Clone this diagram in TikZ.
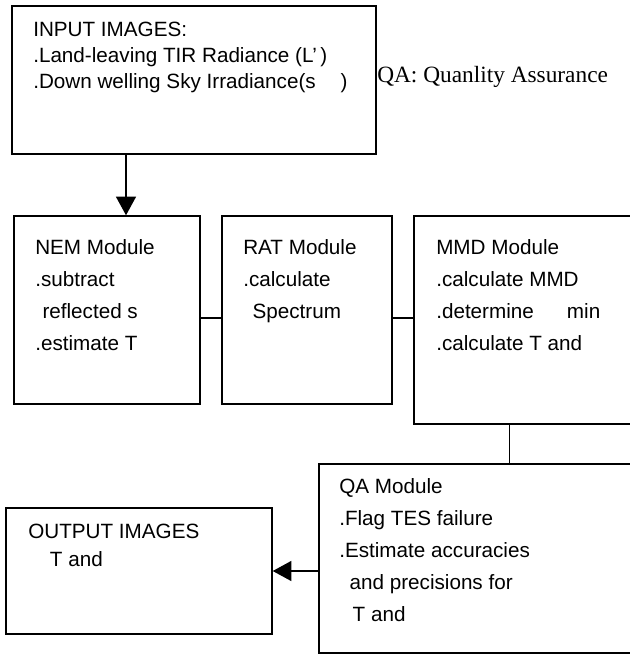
\documentclass[tikz,border=0pt]{standalone}
\usepackage{fontspec}
\setmainfont{Liberation Sans}
\newfontfamily\notefont{Liberation Serif}
\usetikzlibrary{arrows.meta,calc}

\begin{document}
\begin{tikzpicture}[
    x=0.75pt, y=-0.75pt,
    box/.style 2 args={draw, line width=1.1pt, inner sep=0pt,
        minimum width=#1*0.75pt, minimum height=#2*0.75pt},
    txt/.style={anchor=north west, align=left, inner sep=0pt,
        font=\fontsize{15.5}{24}\selectfont},
    arr/.style={line width=1.1pt, -{Triangle[length=14pt,width=15pt]}},
    link/.style={line width=1.1pt}
  ]
  \clip (0,0) rectangle (630,655);
  % boxes
  \node[box={364}{148}] (inp) at (194,80) {};
  \node[box={186}{188}] (nem) at (107,310) {};
  \node[box={170}{188}] (rat) at (307,310) {};
  \node[box={236}{208}] (mmd) at (532,320) {};
  \node[box={331}{189}] (qa)  at (484.5,558.5) {};
  \node[box={266}{126}] (out) at (139,571) {};
  % texts
  \node[txt, font=\fontsize{15.5}{19.5}\selectfont] (inp-t) at (33,22)
    {INPUT IMAGES:\\.Land-leaving TIR Radiance (L'\,)\\.Down welling Sky Irradiance(s\hspace{1.2em})};
  \node[txt] (nem-t) at (35,239)
    {NEM Module\\.subtract\\\hspace*{0.35em}reflected s\\.estimate T};
  \node[txt] (rat-t) at (243,239)
    {RAT Module\\.calculate\\\hspace*{0.45em}Spectrum};
  \node[txt] (mmd-t) at (436,239)
    {MMD Module\\.calculate MMD\\.determine\hspace{1.6em}min\\.calculate T and};
  \node[txt] (qa-t) at (339,478)
    {QA Module\\.Flag TES failure\\.Estimate accuracies\\\hspace*{0.5em}and precisions for\\\hspace*{0.65em}T and};
  \node[txt, font=\fontsize{15.5}{21}\selectfont] (out-t) at (28,524)
    {OUTPUT IMAGES\\\hspace*{1.05em}T and};
  \node[anchor=base west, inner sep=0pt, font=\notefont\fontsize{17.5}{20}\selectfont] (note) at (377,83)
    {QA: Quanlity Assurance};
  % connector ends
  \coordinate (drop) at ($(nem.north)+(19,0)$);
  \coordinate (tap) at ($(mmd.south west)+(96,0)$);
  % connectors
  \draw[arr] (drop |- inp.south) -- (drop);
  \draw[link] ($(nem.east)+(0,8)$) -- ($(rat.west)+(0,8)$);
  \draw[link] ($(rat.east)+(0,8)$) -- ($(mmd.west |- rat.east)+(0,8)$);
  \draw[link] (tap) -- (tap |- qa.north);
  \draw[arr] (qa.west |- out.east) -- (out.east);
\end{tikzpicture}
\end{document}
